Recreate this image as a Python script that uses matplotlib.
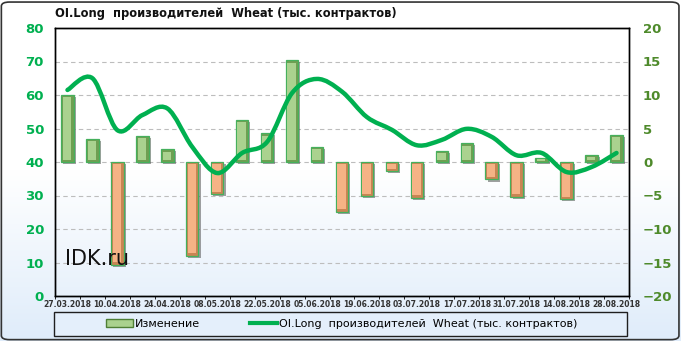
import numpy as np
import matplotlib.pyplot as plt
import matplotlib.patheffects as pe
from matplotlib.path import Path
from matplotlib.patches import PathPatch, FancyBboxPatch, Rectangle, Patch
from matplotlib.lines import Line2D
from matplotlib.colors import LinearSegmentedColormap

# weekly report dates
dates = ['27.03.2018', '03.04.2018', '10.04.2018', '17.04.2018', '24.04.2018',
         '01.05.2018', '08.05.2018', '15.05.2018', '22.05.2018', '29.05.2018',
         '05.06.2018', '12.06.2018', '19.06.2018', '26.06.2018', '03.07.2018',
         '10.07.2018', '17.07.2018', '24.07.2018', '31.07.2018', '07.08.2018',
         '14.08.2018', '21.08.2018', '28.08.2018']

# weekly change (right axis)
changes = [10.0, 3.5, -15.3, 3.9, 1.9, -14.0, -4.8, 6.3, 4.3, 15.2, 2.3, -7.4,
           -5.1, -1.4, -5.3, 1.7, 2.8, -2.6, -5.2, 0.6, -5.5, 1.0, 4.1]

# OI.Long producers (left axis)
oi_long = [61.5, 65.0, 49.5, 54.0, 56.0, 44.5, 36.7, 42.7, 46.0, 60.6, 64.8,
           61.0, 53.4, 49.6, 45.0, 46.6, 49.9, 47.5, 42.0, 42.7, 37.0, 38.5, 42.7]

title = 'OI.Long  производителей  Wheat (тыс. контрактов)'
bar_label = 'Изменение'

x = np.arange(len(dates))
chg = np.array(changes)

fig = plt.figure(figsize=(6.81, 3.41), dpi=100)

# background gradient
bg = fig.add_axes([0, 0, 1, 1], zorder=-10)
grad = np.linspace(0, 1, 256).reshape(-1, 1)
cmap = LinearSegmentedColormap.from_list('bg', ['#FFFFFF', '#FFFFFF', '#DFECFA'])
bg.imshow(grad, aspect='auto', cmap=cmap, extent=[0, 1, 0, 1], origin='upper')
bg.axis('off')

ax = fig.add_axes([55 / 681, 45 / 341, 574 / 681, 268 / 341])
ax2 = ax.twinx()
ax.set_zorder(2)
ax2.set_zorder(1)
ax.patch.set_visible(False)
ax2.patch.set_visible(False)

# bars on right axis, with a simple bevel look
shadow = [pe.SimplePatchShadow(offset=(1.5, -1.5), shadow_rgbFace='#444444', alpha=0.5), pe.Normal()]
pos = chg >= 0
outer = ['#6F9F52' if p else '#C98553' for p in pos]
inner = ['#AAD28F' if p else '#F5B385' for p in pos]
ax2.bar(x, chg, width=0.5, color=outer, edgecolor='#45B05C', linewidth=0.9,
        zorder=3, path_effects=shadow)
inset = np.sign(chg) * np.minimum(0.35, np.abs(chg) * 0.25)
ax2.bar(x - 0.02, chg - 2 * inset, bottom=inset, width=0.34, color=inner,
        linewidth=0, zorder=4)

ax2.set_ylim(-20, 20)
ax2.set_yticks(np.arange(-20, 21, 5))
ax2.tick_params(axis='y', length=0, pad=10, labelsize=9.5, labelcolor='#4E8A2B')
for t in ax2.get_yticklabels():
    t.set_fontweight('bold')

ax2.set_xticks(x[::2])
ax2.set_xticks(np.arange(-0.5, len(dates), 1), minor=True)
ax2.grid(True, which='minor', axis='x', color='#BDBDBD', linestyle=(0, (4, 3)), linewidth=0.8)
ax2.grid(True, which='major', axis='y', color='#BDBDBD', linestyle=(0, (4, 3)), linewidth=0.8)
ax2.set_axisbelow(True)

# smoothed line on left axis (Catmull-Rom as Bezier path)
pts = np.column_stack([x, oi_long]).astype(float)
ext = np.vstack([pts[0], pts, pts[-1]])
verts = [pts[0]]
codes = [Path.MOVETO]
for i in range(len(pts) - 1):
    p0, p1, p2, p3 = ext[i], ext[i + 1], ext[i + 2], ext[i + 3]
    verts += [p1 + (p2 - p0) / 6, p2 - (p3 - p1) / 6, p2]
    codes += [Path.CURVE4] * 3
ax.add_patch(PathPatch(Path(verts, codes), fill=False, edgecolor='#00B050',
                       linewidth=3.2, capstyle='round', zorder=5))

ax.set_xlim(-0.5, len(dates) - 0.5)
ax.set_ylim(0, 80)
ax.set_yticks(np.arange(0, 81, 10))
ax.tick_params(axis='y', length=0, pad=8, labelsize=9.5, labelcolor='#00B050')
for t in ax.get_yticklabels():
    t.set_fontweight('bold')
ax.set_xticks(x[::2])
ax.set_xticklabels(dates[::2], fontsize=5.5, fontweight='bold', color='#333333')
ax.tick_params(axis='x', length=0, pad=3)
ax2.tick_params(axis='x', length=0, labelbottom=False)

for a in (ax, ax2):
    for s in a.spines.values():
        s.set_color('#000000')
        s.set_linewidth(1.0)

ax.text(0.017, 0.115, 'IDK.ru', transform=ax.transAxes, fontsize=15, color='#111111')

fig.text(55 / 681, 1 - 14 / 341, title, fontsize=8.3, fontweight='bold',
         va='center', ha='left', color='#111111')

# legend
fig.add_artist(Rectangle((54 / 681, 5 / 341), 573 / 681, 24 / 341, transform=fig.transFigure,
                         facecolor='#E4EFFB', edgecolor='#1F1F1F', linewidth=1.0))
handles = [Patch(facecolor='#A9D18E', edgecolor='#4E7F35'),
           Line2D([], [], color='#00B050', linewidth=3)]
fig.legend(handles, [bar_label, title], loc='center', bbox_to_anchor=(342 / 681, 17 / 341),
           ncol=2, frameon=False, fontsize=8, columnspacing=4.5, handlelength=2.4,
           handletextpad=0.2)

fig.add_artist(FancyBboxPatch((0.002, 0.004), 0.995, 0.99,
                              boxstyle='round,pad=0,rounding_size=0.012',
                              transform=fig.transFigure, fill=False,
                              edgecolor='#333333', linewidth=1.2))

fig.savefig('out.png', dpi=100)
